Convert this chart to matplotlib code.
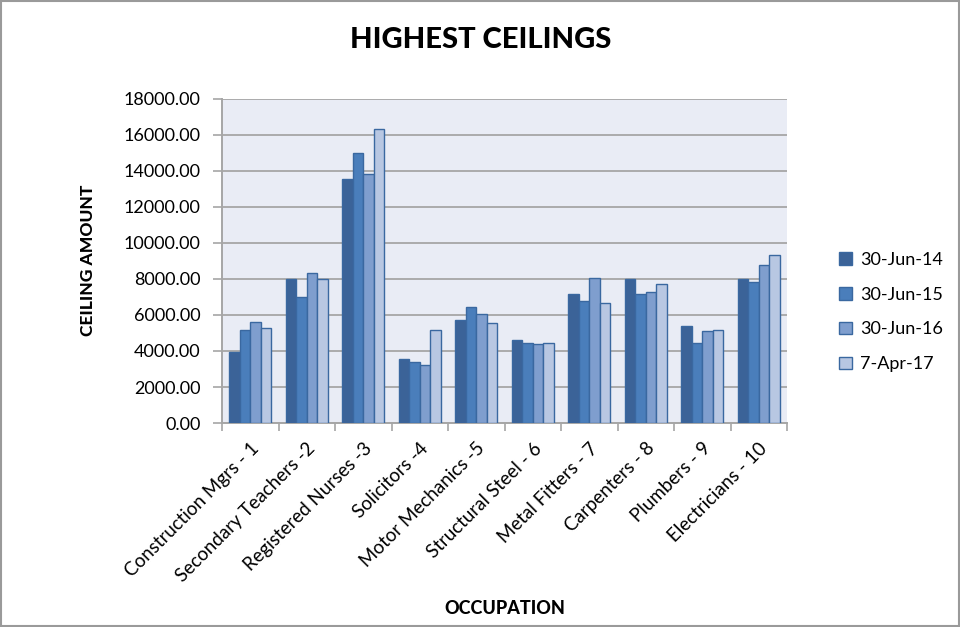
import matplotlib
matplotlib.use("Agg")
import matplotlib.pyplot as plt
import numpy as np
from matplotlib.patches import Rectangle

categories = ["Construction Mgrs - 1", "Secondary Teachers -2", "Registered Nurses -3",
              "Solicitors -4", "Motor Mechanics -5", "Structural Steel - 6",
              "Metal Fitters - 7", "Carpenters - 8", "Plumbers - 9", "Electricians - 10"]
series_names = ["30-Jun-14", "30-Jun-15", "30-Jun-16", "7-Apr-17"]
jun14 = [3960, 7990, 13560, 3550, 5700, 4600, 7190, 8000, 5390, 8000]
jun15 = [5180, 7000, 15020, 3400, 6420, 4470, 6800, 7150, 4440, 7840]
jun16 = [5630, 8320, 13850, 3230, 6070, 4400, 8040, 7280, 5110, 8770]
apr17 = [5270, 8020, 16330, 5140, 5570, 4440, 6670, 7710, 5160, 9320]
yticks = [0, 2000, 4000, 6000, 8000, 10000, 12000, 14000, 16000, 18000]

plt.rcParams['font.family'] = ['Lato', 'DejaVu Sans']

fill_colors = ["#3B6398", "#4A7EBB", "#7F9ECE", "#B8C7E2"]
edge_color = "#3A68A0"

fig = plt.figure(figsize=(9.6, 6.27), dpi=100)
fig.patch.set_facecolor("white")
ax = fig.add_axes([222/960, 1-423/627, (787-222)/960, (423-99)/627])
ax.set_facecolor("#E9ECF5")

x = np.arange(len(categories))
w = 0.185
data = [jun14, jun15, jun16, apr17]
for i, (vals, name) in enumerate(zip(data, series_names)):
    ax.bar(x + (i - 1.5) * w, vals, width=w, color=fill_colors[i], edgecolor=edge_color,
           linewidth=1.0, label=name, zorder=3)

ax.set_xlim(-0.5, len(categories) - 0.5)
ax.set_ylim(0, 18000)
ax.set_yticks(yticks)
ax.set_yticklabels([f"{v:.2f}" for v in yticks], fontsize=13)
ax.yaxis.grid(True, color="#A6A6A6", linewidth=1.3, zorder=0)
ax.set_axisbelow(True)

ax.set_xticks(x)
ax.set_xticklabels(categories, rotation=45, ha="right", rotation_mode="anchor", fontsize=13.5)
ax.set_xticks(np.arange(-0.5, len(categories) + 0.5, 1), minor=True)
ax.tick_params(axis="x", which="major", length=0, pad=12)
ax.tick_params(axis="x", which="minor", length=6, color="#A6A6A6", width=1.2, direction="out")
ax.tick_params(axis="y", length=6.5, color="#A6A6A6", width=1.2, direction="out", pad=9)

for s in ["top", "right"]:
    ax.spines[s].set_visible(False)
for s in ["left", "bottom"]:
    ax.spines[s].set_color("#A6A6A6")
    ax.spines[s].set_linewidth(1.4)

fig.text(481/960, 1-40/627, "HIGHEST CEILINGS", ha="center", va="center",
         fontsize=21, fontweight="black")
fig.text(88/960, 1-260/627, "CEILING AMOUNT", ha="center", va="center",
         rotation=90, fontsize=12.5, fontweight="black")
fig.text(505/960, 1-608/627, "OCCUPATION", ha="center", va="center",
         fontsize=13, fontweight="black")

leg = fig.legend(loc="center left", bbox_to_anchor=(823/960, 1-312/627), frameon=False,
                 fontsize=13, handlelength=0.7, handleheight=0.7, handletextpad=0.45,
                 labelspacing=1.05)

fig.add_artist(Rectangle((0.001, 0.001), 0.998, 0.997, transform=fig.transFigure,
                         fill=False, edgecolor="#9A9A9A", linewidth=1.5))

fig.savefig("out.png", dpi=100)
